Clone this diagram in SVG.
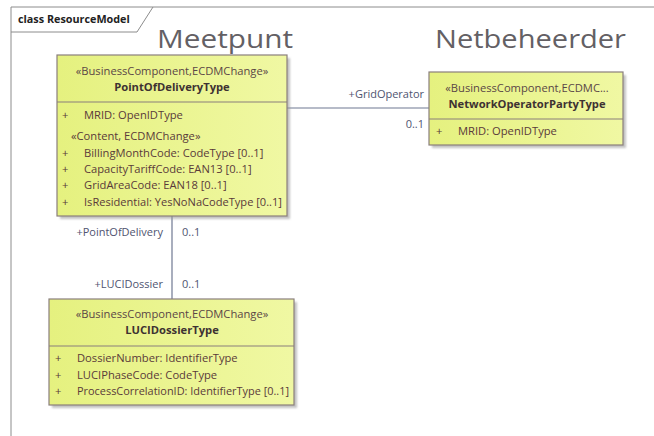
<svg xmlns="http://www.w3.org/2000/svg" width="654" height="436" viewBox="0 0 654 436">
<defs>
<linearGradient id="fill" x1="0" y1="0" x2="1" y2="0">
<stop offset="0" stop-color="#e5f17f"/>
<stop offset="1" stop-color="#f0f8a3"/>
</linearGradient>
<filter id="sh" x="-5%" y="-5%" width="115%" height="115%">
<feGaussianBlur stdDeviation="1.2"/>
</filter>
</defs>
<style>
.frame{fill:none;stroke:#8c8c8c;stroke-width:1}
.title{font-family:"Open Sans","Noto Sans",sans-serif;font-size:26px;fill:#636064}
.tab{font-family:"Open Sans","Noto Sans",sans-serif;font-size:10.8px;font-weight:bold;fill:#222}
.box{fill:url(#fill);stroke:#8a7f7c;stroke-width:1.2}
.shadow{fill:#9a9a9a;opacity:0.6;filter:url(#sh)}
.div{stroke:#8a7f7c;stroke-width:1.2}
.st{font-family:"Open Sans","Noto Sans",sans-serif;font-size:11.2px;fill:#5a4646;text-anchor:middle}
.nm{font-family:"Open Sans","Noto Sans",sans-serif;font-size:11.2px;font-weight:bold;fill:#3e3232;text-anchor:middle}
.at{font-family:"Open Sans","Noto Sans",sans-serif;font-size:11.2px;fill:#5a3a3a}
.conn{stroke:#6f7892;stroke-width:1.2;fill:none}
.lbl{font-family:"Open Sans","Noto Sans",sans-serif;font-size:11px;fill:#4f5470}
</style>
<g id="frame">
<path class="frame" d="M11 436 V7 H654"/>
<path class="frame" d="M11 32 H137 L153 7"/>
<text class="tab" x="18" y="23">class ResourceModel</text>
</g>
<g id="titles">
<text class="title" x="157" y="48" textLength="136" lengthAdjust="spacingAndGlyphs">Meetpunt</text>
<text class="title" x="435" y="48" textLength="191" lengthAdjust="spacingAndGlyphs">Netbeheerder</text>
</g>
<g id="connectors">
<line class="conn" x1="287" y1="108" x2="429" y2="108"/>
<line class="conn" x1="172" y1="216" x2="172" y2="299"/>
<text class="lbl" x="424" y="98" text-anchor="end">+GridOperator</text>
<text class="lbl" x="424" y="128" text-anchor="end">0..1</text>
<text class="lbl" x="163" y="236" text-anchor="end">+PointOfDelivery</text>
<text class="lbl" x="182" y="236">0..1</text>
<text class="lbl" x="163" y="288" text-anchor="end">+LUCIDossier</text>
<text class="lbl" x="182" y="288">0..1</text>
</g>
<g id="PointOfDeliveryType">
<rect class="shadow" x="60" y="58" width="230" height="161"/>
<rect class="box" x="57" y="55" width="230" height="161"/>
<line class="div" x1="57" y1="102" x2="287" y2="102"/>
<text class="st" x="172" y="75">«BusinessComponent,ECDMChange»</text>
<text class="nm" x="172" y="91">PointOfDeliveryType</text>
<text class="at" x="62" y="119">+</text>
<text class="at" x="84" y="119">MRID: OpenIDType</text>
<text class="at" x="71" y="140">«Content, ECDMChange»</text>
<text class="at" x="62" y="157">+</text>
<text class="at" x="84" y="157">BillingMonthCode: CodeType [0..1]</text>
<text class="at" x="62" y="173">+</text>
<text class="at" x="84" y="173">CapacityTariffCode: EAN13 [0..1]</text>
<text class="at" x="62" y="189">+</text>
<text class="at" x="84" y="189">GridAreaCode: EAN18 [0..1]</text>
<text class="at" x="62" y="206">+</text>
<text class="at" x="84" y="206" textLength="198" lengthAdjust="spacingAndGlyphs">IsResidential: YesNoNaCodeType [0..1]</text>
</g>
<g id="NetworkOperatorPartyType">
<rect class="shadow" x="432" y="75" width="194" height="73"/>
<rect class="box" x="429" y="72" width="194" height="73"/>
<line class="div" x1="429" y1="119" x2="623" y2="119"/>
<text class="st" x="527" y="92">«BusinessComponent,ECDMC...</text>
<text class="nm" x="527" y="108">NetworkOperatorPartyType</text>
<text class="at" x="436" y="135">+</text>
<text class="at" x="458" y="135">MRID: OpenIDType</text>
</g>
<g id="LUCIDossierType">
<rect class="shadow" x="52" y="302" width="245" height="106"/>
<rect class="box" x="49" y="299" width="245" height="106"/>
<line class="div" x1="49" y1="346" x2="294" y2="346"/>
<text class="st" x="172" y="318">«BusinessComponent,ECDMChange»</text>
<text class="nm" x="172" y="334">LUCIDossierType</text>
<text class="at" x="55" y="362">+</text>
<text class="at" x="77" y="362">DossierNumber: IdentifierType</text>
<text class="at" x="55" y="379">+</text>
<text class="at" x="77" y="379">LUCIPhaseCode: CodeType</text>
<text class="at" x="55" y="395">+</text>
<text class="at" x="77" y="395" textLength="212" lengthAdjust="spacingAndGlyphs">ProcessCorrelationID: IdentifierType [0..1]</text>
</g>
</svg>
